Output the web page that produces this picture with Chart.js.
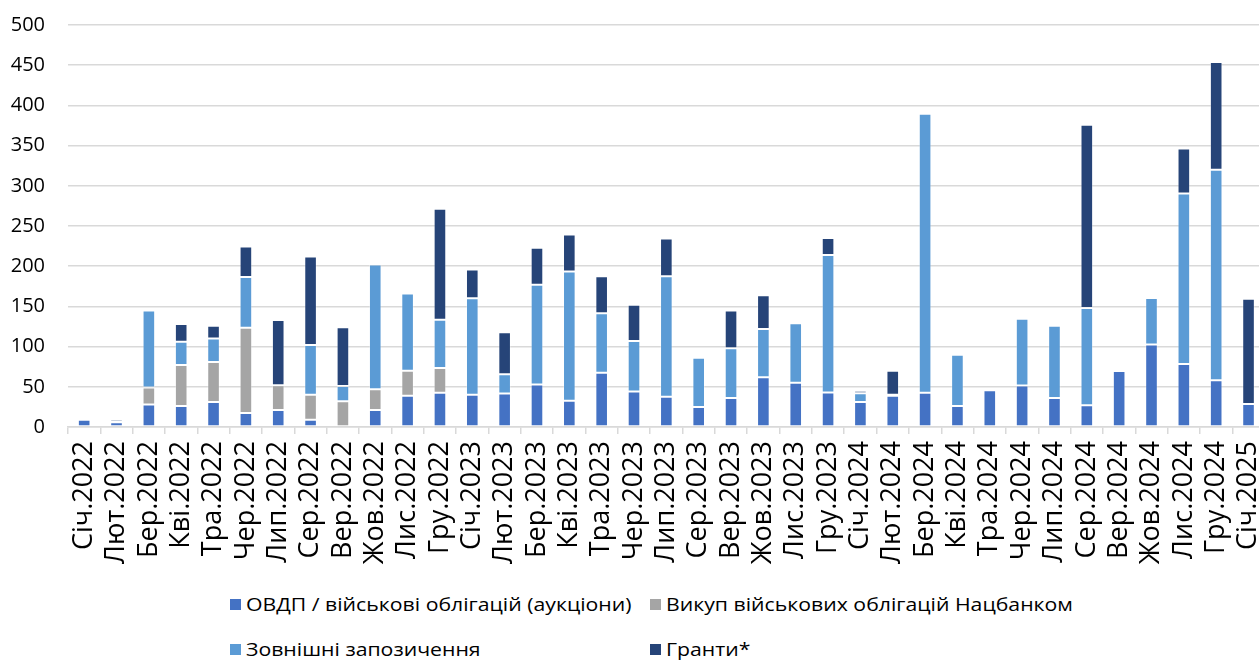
<!DOCTYPE html>
<html>
<head>
<meta charset="utf-8">
<script src="https://cdn.jsdelivr.net/npm/chart.js@4.4.1/dist/chart.umd.min.js"></script>
<style>
  html, body { margin: 0; padding: 0; background: #fff; overflow: hidden; }
  #wrap { position: absolute; left: 0; top: -10px; width: 1288px; height: 590px; }
  #legend { position: absolute; left: 0; top: 580px; width: 1259px; height: 80px;
            font-family: 'Open Sans', sans-serif; font-size: 18px; color: #000; }
  .lg-item { position: absolute; display: flex; align-items: center; white-space: nowrap; }
  .lg-box { width: 11px; height: 11px; margin-right: 5px; }
  .lg-text { display: inline-block; transform: scaleX(1.18); transform-origin: left center; }
</style>
</head>
<body>
<div id="wrap"><canvas id="chart"></canvas></div>
<div id="legend"></div>
<script>
// Categories
const months = ['Січ', 'Лют', 'Бер', 'Кві', 'Тра', 'Чер', 'Лип', 'Сер', 'Вер', 'Жов', 'Лис', 'Гру'];
const labels = [];
[2022, 2023, 2024].forEach(y => months.forEach(m => labels.push(m + '.' + y)));
labels.push('Січ.2025');

// Series values
const ovdp = [9, 6, 28, 26, 31, 17.5, 21, 9, 1, 21, 39, 42.5,
              40, 41.7, 53, 32.5, 67.5, 44, 37.5, 25, 36, 62, 55, 43,
              31, 39, 42.5, 26, 45.6, 51.5, 36, 27, 69.7, 102.5, 78.4, 58,
              28.6];
const nbuBuyback = [0, 0, 21, 51, 50, 106, 31, 31, 31, 26, 31, 31,
                    0, 0, 0, 0, 0, 0, 0, 0, 0, 0, 0, 0,
                    0, 0, 0, 0, 0, 0, 0, 0, 0, 0, 0, 0,
                    0];
const external = [2, 1, 96, 29, 29, 63, 0, 62, 19, 155, 96, 60,
                  120, 24, 124, 161, 74, 63, 150, 61, 62, 60, 74, 171,
                  11, 1, 347, 64, 1.7, 83, 90, 121, 0, 58, 212, 262,
                  0];
const grants = [0, 3, 0, 22, 16, 38, 81, 110, 73, 0, 0, 138,
                36, 52, 46, 46, 46, 45, 47, 0, 47, 42, 0, 21,
                3, 30, 0, 2, 0, 0, 0, 228, 0, 0, 56, 134,
                131];

const yTicks = [0, 50, 100, 150, 200, 250, 300, 350, 400, 450, 500];

const seriesNames = ['ОВДП / військові облігацій (аукціони)', 'Викуп військових облігацій Нацбанком',
                     'Зовнішні запозичення', 'Гранти*'];
const seriesColors = ['#4472C4', '#A5A5A5', '#5B9BD5', '#264478'];

document.addEventListener('DOMContentLoaded', function() {
    const ctx = document.getElementById('chart').getContext('2d');
    const sets = [ovdp, nbuBuyback, external, grants].map((d, i) => ({
        label: seriesNames[i],
        data: d,
        backgroundColor: seriesColors[i],
        borderColor: 'rgba(255,255,255,0.3)',
        borderWidth: 1,
        borderSkipped: false,
        barPercentage: 0.39,
        categoryPercentage: 1
    }));

    const chart = new Chart(ctx, {
        type: 'bar',
        data: { labels: labels, datasets: sets },
        options: {
            responsive: true,
            maintainAspectRatio: false,
            animation: false,
            layout: { padding: { top: 14, right: 5, left: 0, bottom: 0 } },
            plugins: {
                legend: { display: false },
                tooltip: { enabled: false }
            },
            scales: {
                x: {
                    stacked: true,
                    afterFit: function(scale) { scale.height = 153; },
                    grid: {
                        drawOnChartArea: false,
                        drawTicks: true,
                        tickLength: 7,
                        color: '#d9d9d9',
                        lineWidth: 1.5
                    },
                    border: { display: true, color: '#d9d9d9', width: 1.5 },
                    ticks: {
                        autoSkip: false,
                        minRotation: 90,
                        maxRotation: 90,
                        padding: 7,
                        color: '#000',
                        font: { family: 'Open Sans', size: 27 }
                    }
                },
                y: {
                    stacked: true,
                    min: 0,
                    max: 500,
                    afterFit: function(scale) { scale.width = 68; },
                    afterBuildTicks: function(scale) { scale.ticks = yTicks.map(v => ({ value: v })); },
                    grid: { color: '#d9d9d9', lineWidth: 1.5, drawTicks: false },
                    border: { display: false },
                    ticks: {
                        padding: 23,
                        color: '#000',
                        font: { family: 'Open Sans', size: 20 }
                    }
                }
            }
        }
    });

    // Legend in two aligned columns
    const legend = document.getElementById('legend');
    const pos = [[230, 12], [650, 12], [230, 57], [650, 57]];
    chart.data.datasets.forEach((ds, i) => {
        const item = document.createElement('div');
        item.className = 'lg-item';
        item.style.left = pos[i][0] + 'px';
        item.style.top = pos[i][1] + 'px';
        item.innerHTML = '<span class="lg-box" style="background:' + ds.backgroundColor + '"></span><span class="lg-text">' + ds.label + '</span>';
        legend.appendChild(item);
    });
});
</script>
</body>
</html>
